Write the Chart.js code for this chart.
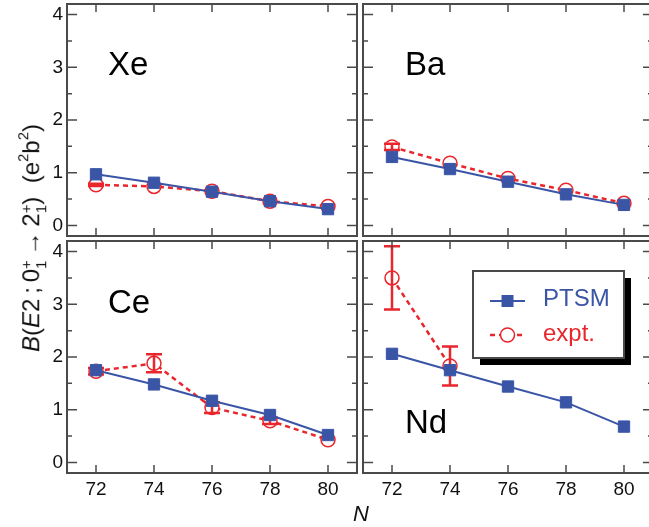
<!DOCTYPE html>
<html><head><meta charset="utf-8">
<script src="https://cdn.jsdelivr.net/npm/chart.js@4.4.1/dist/chart.umd.min.js"></script>
<style>
html,body{margin:0;padding:0;background:#fff;overflow:hidden;}
#wrap{position:relative;width:649px;height:527px;overflow:hidden;background:#fff;}
canvas{position:absolute;}
#ytitle{position:absolute;left:32px;top:238px;transform:translate(-50%,-50%) rotate(-90deg);white-space:nowrap;font:24px "Liberation Sans",Arial,sans-serif;color:#111;line-height:1.3;}
.ss{display:inline-block;vertical-align:-0.45em;font-size:0.62em;line-height:1.0;text-align:left;}
.ss span{display:block;}
sup{font-size:0.62em;vertical-align:0.75em;line-height:0;}
#xtitle{position:absolute;left:353px;top:503px;font:italic 22px "Liberation Sans",Arial,sans-serif;line-height:1;color:#111;}
</style></head><body>
<div id="wrap">
<canvas id="cXe"></canvas>
<canvas id="cBa"></canvas>
<canvas id="cCe"></canvas>
<canvas id="cNd"></canvas>
<div id="ytitle"><i>B</i>(<i>E</i>2&thinsp;;&thinsp;0<span class="ss"><span>+</span><span>1</span></span>&thinsp;→&thinsp;2<span class="ss"><span>+</span><span>1</span></span>)&nbsp;&nbsp;(e<sup>2</sup>b<sup>2</sup>)</div>
<div id="xtitle">N</div>
</div>
<script>
// ---- data ----
const N_VALUES = [72, 74, 76, 78, 80];
const N_TICK_LABELS = ['72', '74', '76', '78', '80'];
const Y_TICKS = [0, 0.5, 1, 1.5, 2, 2.5, 3, 3.5, 4];
const Y_TICK_LABELS = ['0', '', '1', '', '2', '', '3', '', '4'];

const xePTSM = [0.97, 0.81, 0.64, 0.46, 0.31];
const xeExpt = [0.77, 0.74, 0.65, 0.46, 0.36];
const xeErr  = [0.02, null, null, null, null];

const baPTSM = [1.30, 1.07, 0.83, 0.59, 0.39];
const baExpt = [1.49, 1.18, 0.89, 0.67, 0.42];
const baErr  = [0.06, null, null, null, null];

const cePTSM = [1.75, 1.48, 1.17, 0.90, 0.52];
const ceExpt = [1.73, 1.88, 1.04, 0.79, 0.43];
const ceErr  = [0.06, 0.17, 0.10, 0.06, null];

const ndPTSM = [2.06, 1.75, 1.44, 1.14, 0.68];
const ndExpt = [3.50, 1.83, null, null, null];
const ndErr  = [0.60, 0.37, null, null, null];

const SERIES_NAMES = ['PTSM', 'expt.'];

// ---- style ----
const BLUE = '#3a55a6';
const RED = '#e8262c';
const FRAME = '#4a4a4a';
const FONT = '"Liberation Sans", Arial, Helvetica, sans-serif';
Chart.defaults.font.family = FONT;
Chart.defaults.color = '#111';

const framePlugin = {
  id: 'frame',
  afterDraw(chart) {
    const {ctx, chartArea: a, scales: {x, y}} = chart;
    ctx.save();
    ctx.strokeStyle = FRAME;
    ctx.lineWidth = 1.5;
    ctx.beginPath();
    Y_TICKS.forEach(v => {
      const py = y.getPixelForValue(v);
      const len = Number.isInteger(v) ? 10 : 5;
      ctx.moveTo(a.left, py); ctx.lineTo(a.left + len, py);
      ctx.moveTo(a.right, py); ctx.lineTo(a.right - len, py);
    });
    N_VALUES.forEach(v => {
      const px = x.getPixelForValue(v);
      ctx.moveTo(px, a.top); ctx.lineTo(px, a.top + 8);
      ctx.moveTo(px, a.bottom); ctx.lineTo(px, a.bottom - 8);
    });
    ctx.stroke();
    ctx.lineWidth = 2;
    ctx.strokeRect(a.left, a.top, a.right - a.left, a.bottom - a.top);
    ctx.restore();
  }
};

const errPlugin = {
  id: 'errbars',
  afterDatasetDraw(chart, args) {
    const ds = chart.data.datasets[args.index];
    if (!ds.errors) return;
    const {ctx, scales: {x, y}} = chart;
    ctx.save();
    ctx.strokeStyle = RED;
    ctx.lineWidth = 2.5;
    ctx.beginPath();
    ds.data.forEach((p, i) => {
      const e = ds.errors[i];
      if (p.y == null || !e) return;
      const px = x.getPixelForValue(p.x);
      const y1 = y.getPixelForValue(p.y + e);
      const y2 = y.getPixelForValue(p.y - e);
      ctx.moveTo(px, y1); ctx.lineTo(px, y2);
      ctx.moveTo(px - 8, y1); ctx.lineTo(px + 8, y1);
      ctx.moveTo(px - 8, y2); ctx.lineTo(px + 8, y2);
    });
    ctx.stroke();
    ctx.restore();
  }
};

const labelPlugin = {
  id: 'panelLabel',
  afterDraw(chart, args, opts) {
    const {ctx, chartArea: a} = chart;
    ctx.save();
    ctx.font = '33px ' + FONT;
    ctx.fillStyle = '#000';
    ctx.textBaseline = 'alphabetic';
    ctx.fillText(opts.text, a.left + opts.dx, a.top + opts.dy);
    if (opts.legend) {
      const bx = a.left + 110, by = a.top + 30, bw = 151, bh = 87;
      ctx.fillStyle = '#000';
      ctx.fillRect(bx + 7, by + 7, bw, bh);
      ctx.fillStyle = '#fff';
      ctx.fillRect(bx, by, bw, bh);
      ctx.strokeStyle = FRAME; ctx.lineWidth = 2;
      ctx.strokeRect(bx, by, bw, bh);
      // PTSM
      ctx.strokeStyle = BLUE; ctx.lineWidth = 2;
      ctx.beginPath(); ctx.moveTo(bx + 17, by + 30); ctx.lineTo(bx + 52, by + 30); ctx.stroke();
      ctx.fillStyle = BLUE; ctx.fillRect(bx + 34.5 - 6, by + 30 - 6, 12, 12);
      // expt
      ctx.strokeStyle = RED; ctx.lineWidth = 2.5;
      ctx.setLineDash([5, 4]);
      ctx.beginPath(); ctx.moveTo(bx + 17, by + 64); ctx.lineTo(bx + 52, by + 64); ctx.stroke();
      ctx.setLineDash([]);
      ctx.fillStyle = '#fff'; ctx.lineWidth = 1.5;
      ctx.beginPath(); ctx.arc(bx + 34.5, by + 64, 7, 0, Math.PI * 2); ctx.fill(); ctx.stroke();
      ctx.font = '24px ' + FONT;
      ctx.fillStyle = BLUE; ctx.fillText(SERIES_NAMES[0], bx + 70, by + 35);
      ctx.fillStyle = RED; ctx.fillText(SERIES_NAMES[1], bx + 70, by + 70);
    }
    ctx.restore();
  }
};

function pts(arr) { return arr.map((v, i) => ({x: N_VALUES[i], y: v})); }

function makePanel(id, rect, ptsm, expt, err, label, showY, showX, legend) {
  const cv = document.getElementById(id);
  const w = rect.R - rect.L + 100, h = rect.B - rect.T + 100;
  cv.width = w; cv.height = h;
  cv.style.width = w + 'px'; cv.style.height = h + 'px';
  cv.style.left = (rect.L - 70) + 'px'; cv.style.top = (rect.T - 30) + 'px';
  return new Chart(cv, {
    type: 'line',
    data: {
      datasets: [
        {
          label: SERIES_NAMES[0], data: pts(ptsm), order: 0,
          borderColor: BLUE, borderWidth: 2, tension: 0,
          pointStyle: 'rect', pointRadius: 8, pointBorderWidth: 1,
          pointBackgroundColor: BLUE, pointBorderColor: BLUE
        },
        {
          label: SERIES_NAMES[1], data: pts(expt), errors: err, order: 1,
          borderColor: RED, borderWidth: 2.5, borderDash: [5, 4], tension: 0,
          pointStyle: 'circle', pointRadius: 7, pointBorderWidth: 1.5,
          pointBackgroundColor: '#fff', pointBorderColor: RED
        }
      ]
    },
    options: {
      responsive: false, animation: false, devicePixelRatio: 1,
      layout: {padding: {left: 30, top: 30, right: 30, bottom: 35}},
      plugins: {legend: {display: false}, tooltip: {enabled: false}, panelLabel: {text: label.text, dx: label.dx, dy: label.dy, legend: legend}},
      scales: {
        x: {
          type: 'linear', min: 71, max: 81,
          afterBuildTicks: s => { s.ticks = N_VALUES.map(v => ({value: v})); },
          afterFit: s => { s.height = 35; },
          grid: {display: false, drawTicks: false}, border: {display: false},
          ticks: {display: showX, padding: 5, maxRotation: 0, autoSkip: false, font: {size: 19}, color: '#111',
            callback: (v, i) => N_TICK_LABELS[i]}
        },
        y: {
          type: 'linear', min: -0.2, max: 4.2,
          afterBuildTicks: s => { s.ticks = Y_TICKS.map(v => ({value: v})); },
          afterFit: s => { s.width = 40; },
          grid: {display: false, drawTicks: false}, border: {display: false},
          ticks: {display: showY, padding: 4, autoSkip: false, font: {size: 19}, color: '#111',
            callback: (v, i) => Y_TICK_LABELS[i]}
        }
      }
    },
    plugins: [framePlugin, errPlugin, labelPlugin]
  });
}

makePanel('cXe', {L: 67, T: 4, R: 357, B: 236}, xePTSM, xeExpt, xeErr, {text: 'Xe', dx: 41, dy: 71}, true, false, false);
makePanel('cBa', {L: 363, T: 4, R: 653, B: 236}, baPTSM, baExpt, baErr, {text: 'Ba', dx: 42, dy: 71}, false, false, false);
makePanel('cCe', {L: 67, T: 241, R: 357, B: 473}, cePTSM, ceExpt, ceErr, {text: 'Ce', dx: 41, dy: 72}, true, true, false);
makePanel('cNd', {L: 363, T: 241, R: 653, B: 473}, ndPTSM, ndExpt, ndErr, {text: 'Nd', dx: 42, dy: 192}, false, true, true);
</script>
</body></html>
